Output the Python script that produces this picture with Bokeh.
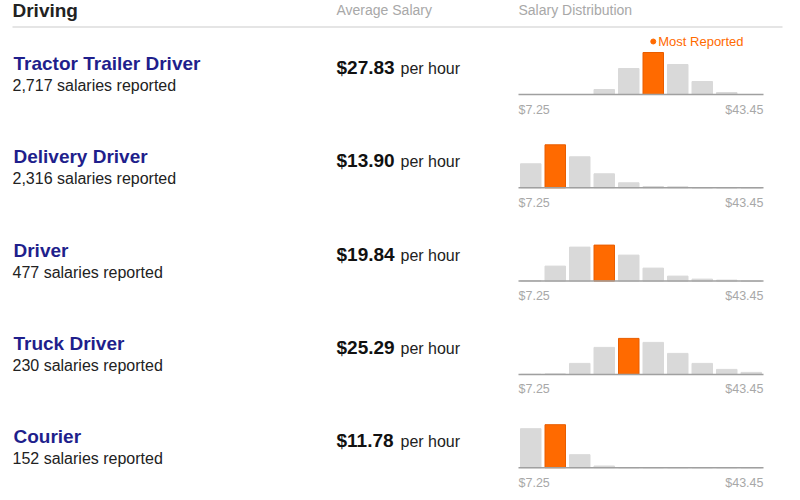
from bokeh.plotting import figure
from bokeh.models import Range1d, ColumnDataSource
from bokeh.core.properties import value
from bokeh.embed import file_html
from bokeh.resources import INLINE

# ---------------- data ----------------
section = "Driving"
col_avg = "Average Salary"
col_dist = "Salary Distribution"
titles = ["Tractor Trailer Driver", "Delivery Driver", "Driver", "Truck Driver", "Courier"]
counts = [2717, 2316, 477, 230, 152]
salaries = [27.83, 13.90, 19.84, 25.29, 11.78]
range_min = 7.25
range_max = 43.45
# relative share of reports in 10 salary bins between range_min and range_max
dist_tractor = [0, 0, 0, 5, 26, 42, 30, 13, 2, 0]
dist_delivery = [24, 43, 31, 14, 5, 1.3, 1, 0, 0, 0]
dist_driver = [0.6, 15, 34, 36, 26, 13, 5, 2, 1, 0]
dist_truck = [0, 0.5, 11, 27, 36, 32, 21, 11, 5, 2]
dist_courier = [39, 43, 13, 1.7, 0, 0, 0, 0, 0, 0]
dists = [dist_tractor, dist_delivery, dist_driver, dist_truck, dist_courier]
most_label = "Most Reported"

# ---------------- style / layout ----------------
FONT = value("Liberation Sans")
BLUE = "#1f1f8c"
DARK = "#222222"
GREY_TXT = "#a8a8a8"
BAR_GREY = "#d9d9d9"
ORANGE = "#ff6a00"
ORANGE_EDGE = "#e85d00"

W, H = 784, 496
p = figure(width=W, height=H, output_backend="svg", toolbar_location=None,
           x_range=Range1d(0, W), y_range=Range1d(H, 0),
           min_border=0, outline_line_color=None)
p.axis.visible = False
p.grid.visible = False
p.background_fill_color = "white"
p.border_fill_color = "white"

def txt(x, y, t, size, color, style="normal", align="left"):
    p.text(x=[x], y=[y], text=[t], text_font=FONT, text_font_size=f"{size}px",
           text_color=color, text_font_style=style, text_align=align,
           text_baseline="middle")

# header
txt(12, 10, section, 19, DARK, "bold")
txt(336, 9, col_avg, 14, GREY_TXT)
txt(518, 9, col_dist, 14, GREY_TXT)
p.segment(x0=[12], y0=[26.5], x1=[782], y1=[26.5], line_color="#dddddd", line_width=1.5)

ROW0 = 63
ROW_STEP = 93.3
HL, HR = 518, 763
nb = 10
bw = (HR - HL) / nb
gap = 4

for i, (t, c, s, d) in enumerate(zip(titles, counts, salaries, dists)):
    y0 = ROW0 + i * ROW_STEP
    txt(13, y0, t, 19, BLUE, "bold")
    txt(12, y0 + 22, f"{c:,} salaries reported", 16, DARK)
    txt(336, y0 + 4, f"${s:.2f}", 19, "#111111", "bold")
    txt(400, y0 + 5, "per hour", 16, DARK)

    base = y0 + 31
    mi = max(range(nb), key=lambda k: d[k])
    left = [HL + k * bw + gap / 2 for k in range(nb)]
    right = [HL + (k + 1) * bw - gap / 2 for k in range(nb)]
    top = [base - v for v in d]
    colors = [ORANGE if k == mi else BAR_GREY for k in range(nb)]
    lines = [ORANGE_EDGE if k == mi else BAR_GREY for k in range(nb)]
    src = ColumnDataSource(dict(left=left, right=right, top=top,
                                bottom=[base] * nb, fill=colors, line=lines))
    p.quad(left="left", right="right", top="top", bottom="bottom", source=src,
           fill_color="fill", line_color="line", line_width=1)
    p.segment(x0=[HL], y0=[base], x1=[HR], y1=[base], line_color="#a0a0a0", line_width=1.5)
    txt(HL, base + 15, f"${range_min:.2f}", 12.5, GREY_TXT)
    txt(HR, base + 15, f"${range_max:.2f}", 12.5, GREY_TXT, align="right")

    if i == 0:
        cx = (left[mi] + right[mi]) / 2
        ly = base - d[mi] - 11
        p.scatter(x=[cx], y=[ly], size=5, color=ORANGE)
        txt(cx + 5, ly, most_label, 13, ORANGE)

open("out.html", "w").write(file_html(p, INLINE))
